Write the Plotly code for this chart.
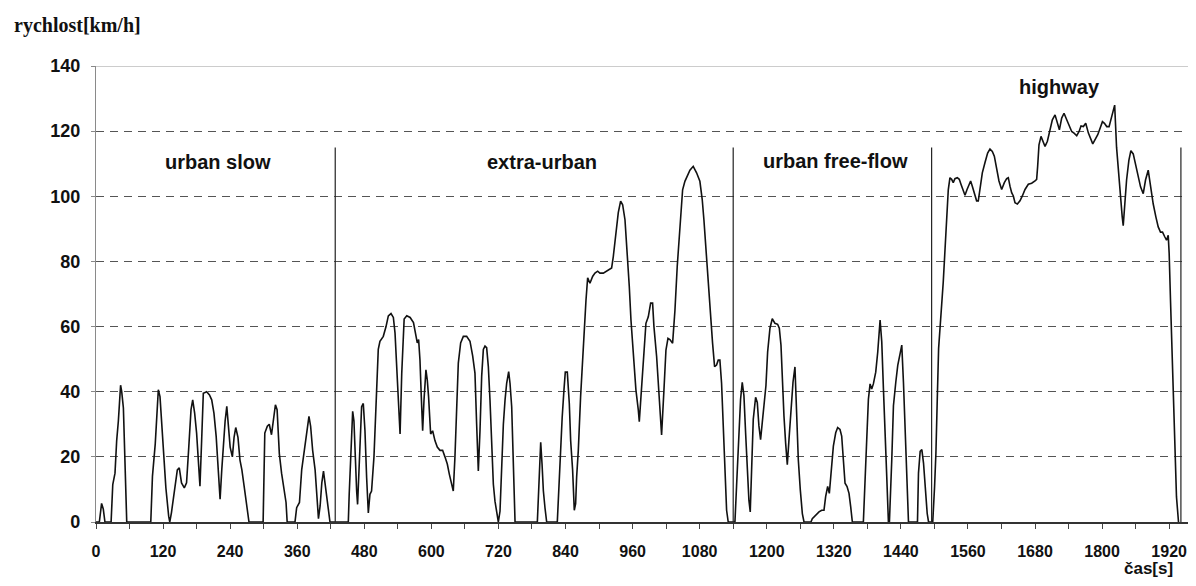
import plotly.graph_objects as go

# ---- data (time [s], speed [km/h]) ----
t_urban_slow = [0, 6, 10, 13, 16, 27, 30, 34, 37, 40, 44, 46, 49, 51, 55, 98, 101, 106, 109, 111.5, 114.5, 117.5,
                120.5, 125, 130, 132, 135, 141, 145.5, 149, 153, 158, 162, 166, 170, 173, 176.5, 180, 183, 186, 189,
                192, 198, 203, 207, 211, 215, 219, 222, 225, 228, 231, 234, 237, 240, 244, 247, 250, 254, 257.6, 261,
                265, 269.5, 273.7, 299, 302, 306.5, 310, 314, 317, 321, 324, 328, 332, 336, 340, 342, 356, 359, 364,
                368, 374, 378, 381, 384, 387.6, 392, 395, 398, 401, 404, 407, 410, 413, 415.6, 418.6]
v_urban_slow = [0, 0, 5.7, 4, 0, 0, 11.5, 15, 25, 31, 42, 40, 35, 20, 0, 0, 14, 24, 35.5, 40.6, 38.5, 31,
                21, 10.5, 1.8, 0, 2.9, 10, 16, 16.6, 12, 10.5, 12, 23, 34.5, 37.5, 33.4, 27.3, 17, 11, 25,
                39.5, 40, 39, 37.5, 33.4, 26.3, 16, 7, 16, 24, 31, 35.5, 30, 23, 20, 26, 29, 26, 19, 16,
                11, 5, 0, 0, 27.3, 29.4, 30, 26.8, 30.4, 36, 34.5, 21, 15, 11, 6, 0, 0, 4.4, 6,
                16, 24, 30, 32.4, 29.4, 22, 16, 7, 1, 5, 12, 15.6, 12, 7.5, 4, 0]

t_extra_urban = [451.4, 453, 457.4, 459.2, 461.5, 463.3, 466.3, 468, 471, 475.2, 478.2, 481.2, 484.2, 487.2, 490.1,
                 493, 497.3, 500.9, 505, 508, 514, 518.9, 523, 527.8, 532, 535, 538, 541, 544, 547, 551.3, 556, 562,
                 568, 572.4, 574.8, 577.2, 579.6, 582, 584.4, 586.8, 590.3, 592.7, 595, 598.7, 602.3, 606.4, 610.6,
                 615.4, 620.1, 624.3, 628.5, 632.1, 636.3, 639.2, 642.2, 645.2, 648.2, 652.4, 657.2, 663.1, 669.1,
                 673.9, 678, 681, 684, 687, 690, 693, 695.9, 698.9, 701.9, 704.9, 707.9, 710.9, 713.8, 716.8, 719.8,
                 722.8, 725.8, 728.8, 731.8, 734.7, 738.3, 740.7, 743.7, 746.7, 749.7, 789.6, 793.2, 795.6, 798,
                 800.4, 803.3, 806.3, 825.3, 830.1, 834, 837.2, 839.6, 843.2, 846.8, 849.2, 852.7, 855.7, 858.1,
                 859.9, 862.9, 867, 870.6, 873.6, 876.6, 879.6, 883.7, 888.5, 892.7, 897.5, 901.6, 907.6, 913.5,
                 922.5, 925.5, 930.3, 934.4, 938.6, 942.2, 946.4, 950.5, 954.1, 957.1, 961.3, 966, 970.2, 972, 975,
                 979.2, 983.9, 988.1, 992.3, 995.8, 998.2, 1003, 1007.8, 1011.9, 1016.1, 1019.7, 1023.3, 1026.8,
                 1031.6, 1035.8, 1039.9, 1044.7, 1049.5, 1053.6, 1057.8, 1062.6, 1068.5, 1074.5, 1080.4, 1084.6,
                 1087.6, 1091.2, 1095.3, 1099.5, 1103.1, 1106.7, 1110.2, 1113.2, 1116.2, 1119.2, 1122.2, 1125.2,
                 1128.2, 1131.1]
v_extra_urban = [0, 8.5, 25, 34, 31, 21, 9.5, 5.4, 20, 35.4, 36.4, 28, 13.6, 2.8, 8.5,
                 9.5, 20, 38.5, 53, 55.5, 57, 60, 63.3, 64, 62.8, 58, 47.8, 38.5, 27, 45.7, 62.3, 63.3, 62.8,
                 61.2, 57, 55, 56, 49.8, 38.5, 28, 37.4, 46.7, 43.6, 38.5, 27, 28, 25, 23,
                 22, 22, 20, 17.8, 14.7, 11.6, 9.5, 20, 35.4, 48.8, 55, 57, 57, 55.5,
                 51, 45.7, 30, 15.7, 28, 44.7, 53, 54, 53.5, 47.8, 37.4, 22, 11.6, 6.4, 3.3, 0,
                 3.3, 16.8, 30, 37.4, 42.6, 46.2, 42.6, 35.4, 20, 0, 0, 13.6, 24.5, 17.8,
                 9.5, 4.3, 0, 0, 20, 32, 40.5, 46, 46, 36.4, 25, 16, 3.6, 5.6,
                 13.8, 22, 38.5, 49.7, 62, 68, 75, 73.3, 75.4, 76.4, 77, 76.4, 76.4, 77,
                 78, 81.5, 88.7, 95, 98.5, 97.4, 92.8, 82.6, 72.3, 62, 50.8, 40.5, 34.4, 30.8, 38.5,
                 50.8, 61, 63, 67.2, 67.2, 60, 50.8, 39.5, 26.7, 40.5, 52.8, 56.4, 56,
                 54.9, 65, 78.5, 91.8, 102, 104.6, 106, 108, 109.2, 107.2, 104.6, 99,
                 92.8, 83.6, 73.3, 63, 54.9, 47.7, 48.2, 49.7, 49.7, 42.6, 29.2, 16,
                 3.6, 0]

t_urban_free = [1143.1, 1146, 1150.2, 1153.2, 1156.2, 1159.2, 1162.2, 1165.2, 1168.1, 1170.5, 1172.9, 1175.9,
                1180.1, 1183.1, 1186, 1189, 1192, 1195.6, 1198.6, 1201.6, 1205.8, 1209.9, 1214.7, 1219.5, 1222.5,
                1225.5, 1227.9, 1230.8, 1233.8, 1236.8, 1239.8, 1243.4, 1247, 1250.5, 1253.5, 1256.5, 1260.1,
                1263.7, 1266.7, 1279.1, 1281.5, 1285.1, 1289.3, 1293.5, 1298.3, 1302.4, 1305.4, 1309, 1312, 1315,
                1319.2, 1323.4, 1326.9, 1331.1, 1334.1, 1337.1, 1340.1, 1343.7, 1347.2, 1350.2, 1353.2, 1372.9,
                1375.9, 1378.9, 1381.9, 1384.9, 1387.8, 1390.8, 1395, 1398.6, 1402.8, 1405.8, 1408.8, 1411.7,
                1414.7, 1417.7, 1419.5, 1423.7, 1426.7, 1430.9, 1434.4, 1438.6, 1441.6, 1444.6, 1447.6, 1450.6,
                1453.6, 1469.7, 1471.5, 1474.5, 1477.5, 1480.5, 1483.5, 1487.1, 1489.5]
v_urban_free = [0, 10.9, 26.4, 37.7, 42.9, 38.8, 27.4, 17, 6.7, 3.1, 17, 31.5,
                38.3, 36.7, 29.5, 25.3, 30.5, 35.7, 41.9, 52.2, 59.5, 62.4, 61, 60.7, 59.5,
                54.3, 42.9, 32.6, 24.3, 17.6, 25.3, 35.7, 42.9, 47.6, 32.6, 19.1, 9.8,
                2.6, 0, 0, 1, 1.6, 2.6, 3.1, 3.6, 3.6, 7.8, 10.9, 8.8, 15,
                23.3, 27.4, 29, 28.4, 26.4, 19.1, 11.9, 10.9, 8.8, 4.7, 0, 0,
                10.9, 25.3, 37.7, 42.4, 40.8, 42.4, 46, 52.2, 62, 55.3, 40.8, 29.5,
                14, 0, 0, 19.1, 35.7, 42.9, 48.1, 51.7, 54.3, 42.9, 27.4, 10.9,
                0, 0, 15, 21.7, 22.2, 18.1, 10.9, 2.6, 0]

t_highway = [1497, 1500.3, 1502.7, 1505.1, 1507.5, 1515.8, 1518.8, 1521.8, 1524.8, 1527.8, 1530.8, 1533.7, 1536.7,
             1540.9, 1544.5, 1547.5, 1551.1, 1554.7, 1558.2, 1561.8, 1564.8, 1567.8, 1571.3, 1575.5, 1578.5, 1581.5,
             1585.7, 1590.4, 1595.2, 1599.4, 1603.6, 1607.2, 1611.4, 1615.5, 1620.3, 1625.1, 1629.3, 1632.2, 1635.2,
             1638.2, 1641.2, 1644.2, 1648.4, 1653.1, 1657.3, 1662.1, 1668, 1674, 1680, 1682.9, 1684.7, 1687.1,
             1690.7, 1694.9, 1697.9, 1702.1, 1706.8, 1711, 1715.8, 1720, 1723.6, 1727.7, 1731.9, 1736.7, 1740.9,
             1745.6, 1749.8, 1754.6, 1758.8, 1762.3, 1766.5, 1770.7, 1775.5, 1779.7, 1783.3, 1787.4, 1792.2, 1796.4,
             1800.6, 1804.2, 1808.3, 1812.5, 1816.1, 1820.3, 1822.5, 1825.9, 1830, 1833, 1836, 1837.8, 1840.8,
             1843.8, 1847.9, 1851.5, 1855.7, 1859.9, 1864.6, 1868.8, 1873.6, 1877.7, 1882.5, 1886.7, 1891.4,
             1896.2, 1900.4, 1904.5, 1908.1, 1912.3, 1915.3, 1918.3, 1920, 1922.4, 1925.4, 1927.2, 1930.2, 1933.1,
             1936.7]
v_highway = [0, 10.9, 21.2, 37.7, 53.3, 73.7, 83.9, 92, 102, 105.7, 105.2, 104.2, 105.4,
             105.7, 105.2, 103.7, 102, 100.3, 102, 103.7, 104.7, 103.1, 100.6, 98.6, 98.6, 102.6,
             107.2, 110.3, 113.3, 114.5, 113.8, 112.3, 108.2, 104.7, 102.1, 104.2, 105.4, 105.7, 103.1,
             101.1, 100.1, 98, 97.6, 98.6, 100.1, 102.1, 103.7, 104, 104.7, 105.2, 109.2, 115.8,
             118.4, 116.9, 115.3, 116.9, 120.4, 123.5, 125, 122.9, 120.4, 124, 125.5, 123.5, 121.9,
             119.9, 119.4, 118.6, 119.9, 121.6, 121.4, 122.4, 119.4, 117.4, 116.1, 117.4, 118.9, 120.9,
             122.9, 122.4, 121.4, 121.4, 123.5, 126, 128, 115, 105, 99.8, 93.7, 91, 98.8,
             105, 111, 114, 113, 110, 106, 102.9, 100.8, 105, 108, 102.9, 97.7,
             93.7, 90.6, 89, 89, 87.5, 86.5, 88, 82.4, 68, 50.7, 35.3, 20, 7.7,
             0]

segment_bounds = [428, 1140, 1495, 1941]
segment_line_top = 115
segment_names = ["urban slow", "extra-urban", "urban free-flow", "highway"]
segment_label_x = [218, 798, 1323, 1723]
segment_label_y = [110.6, 110.6, 110.9, 133.5]

x_ticks = list(range(0, 1921, 120))
y_ticks = list(range(0, 141, 20))

time_all = t_urban_slow + t_extra_urban + t_urban_free + t_highway
speed_all = v_urban_slow + v_extra_urban + v_urban_free + v_highway

SANS = "Liberation Sans, Arial, sans-serif"
PAGE_OFFSET = 8          # default body margin of the html page
W_PLOT = 1100
H_PLOT = 456
M_LEFT = 96 - PAGE_OFFSET
M_TOP = 66 - PAGE_OFFSET
FIG_W = 1196 - PAGE_OFFSET
FIG_H = 586 - PAGE_OFFSET

fig = go.Figure()
fig.add_trace(go.Scatter(x=time_all, y=speed_all, mode="lines",
                         line=dict(color="#111111", width=1.6), hoverinfo="skip", showlegend=False))

shapes = []
for b in segment_bounds:
    shapes.append(dict(type="line", xref="x", yref="y", x0=b, x1=b, y0=0, y1=segment_line_top,
                       line=dict(color="#222222", width=1.2), layer="above"))
shapes.append(dict(type="line", xref="paper", yref="y", x0=0, x1=1, y0=140, y1=140,
                   line=dict(color="#9a9a9a", width=1.2), layer="above"))

annotations = []
for name, lx, ly in zip(segment_names, segment_label_x, segment_label_y):
    annotations.append(dict(x=lx, y=ly, xref="x", yref="y", text=f"<b>{name}</b>", showarrow=False,
                            font=dict(family=SANS, size=20, color="#111111")))
annotations.append(dict(x=(12 - 96) / W_PLOT, y=1 + 41 / H_PLOT, xref="paper", yref="paper",
                        xanchor="left", yanchor="middle", text="<b>rychlost[km/h]</b>", showarrow=False,
                        font=dict(family="Liberation Serif, Times New Roman, serif", size=20, color="#111111")))
annotations.append(dict(x=1 - 21 / W_PLOT, y=-46 / H_PLOT, xref="paper", yref="paper",
                        xanchor="right", yanchor="middle", text="<b>čas[s]</b>", showarrow=False,
                        font=dict(family=SANS, size=17, color="#111111")))

fig.update_layout(
    width=FIG_W, height=FIG_H,
    margin=dict(l=M_LEFT, r=0, t=M_TOP, b=FIG_H - M_TOP - H_PLOT, autoexpand=False),
    plot_bgcolor="white", paper_bgcolor="white",
    shapes=shapes, annotations=annotations,
    xaxis=dict(range=[0, 1968], tickvals=x_ticks, ticktext=[f"<b>{v}</b>" for v in x_ticks],
               ticks="outside", ticklen=5, tickcolor="#444444", tickwidth=1,
               minor=dict(dtick=60, tick0=0, ticks="outside", ticklen=5, tickcolor="#444444", showgrid=False),
               showgrid=False, zeroline=False, showline=True, linecolor="#333333", linewidth=1.5,
               ticklabelstandoff=9, automargin=False,
               tickfont=dict(family=SANS, size=16, color="#111111")),
    yaxis=dict(range=[0, 140], tickvals=y_ticks, ticktext=[f"<b>{v}</b>" for v in y_ticks],
               ticks="outside", ticklen=4, tickcolor="#888888",
               showgrid=True, gridcolor="#555555", gridwidth=1, griddash="8px,6px",
               zeroline=False, showline=True, linecolor="#8a8a8a", linewidth=1.2,
               ticklabelstandoff=7, automargin=False,
               tickfont=dict(family=SANS, size=18, color="#111111")),
)

fig.write_html("out.html")
